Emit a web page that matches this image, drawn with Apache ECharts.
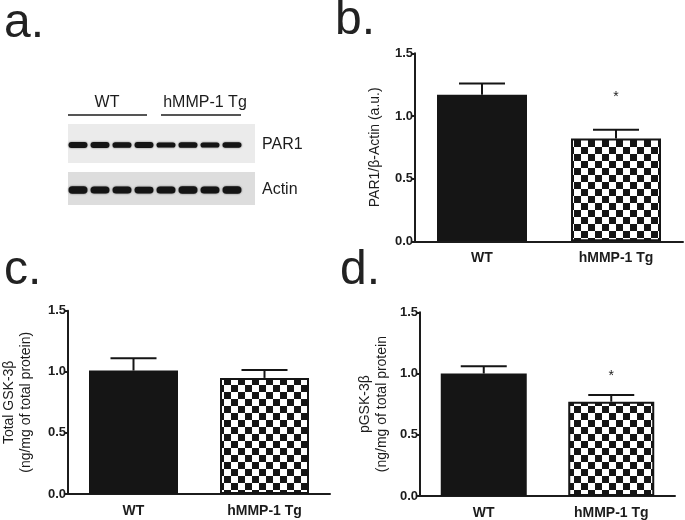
<!DOCTYPE html>
<html>
<head>
<meta charset="utf-8">
<script src="https://cdn.jsdelivr.net/npm/echarts@6/dist/echarts.min.js"></script>
<style>
html,body{margin:0;padding:0;background:#fff;}
#chart{width:685px;height:520px;}
</style>
</head>
<body>
<div id="chart"></div>
<script>
// ---------- data ----------
const categories = ['WT', 'hMMP-1 Tg'];
const yTickValues = [0.0, 0.5, 1.0, 1.5];

// panel b: PAR1 / beta-actin
const par1Mean = [1.17, 0.82];
const par1Err = [0.09, 0.07];
const par1Star = [null, 1.15];

// panel c: total GSK-3beta
const totalGskMean = [1.01, 0.95];
const totalGskErr = [0.10, 0.065];
const totalGskStar = [null, null];

// panel d: pGSK-3beta
const pGskMean = [1.00, 0.77];
const pGskErr = [0.06, 0.055];
const pGskStar = [null, 0.98];

// panel a: western blot (relative band density per lane)
const blotLanes = ['1', '2', '3', '4', '5', '6', '7', '8'];
const blotRows = ['PAR1', 'Actin'];
const blotGroups = ['WT', 'hMMP-1 Tg'];
const par1Bands = [1.0, 1.0, 0.95, 1.0, 0.85, 0.95, 0.85, 0.9];
const actinBands = [1.0, 0.95, 0.95, 0.9, 0.95, 1.0, 0.95, 1.0];

// ---------- styling ----------
const FONT = '"Liberation Sans", Arial, Helvetica, sans-serif';
const INK = '#1c1c1c';

function makeChecker() {
  const c = document.createElement('canvas');
  const s = 7;
  c.width = 2 * s; c.height = 2 * s;
  const g = c.getContext('2d');
  g.fillStyle = '#ffffff';
  g.fillRect(0, 0, 2 * s, 2 * s);
  g.fillStyle = '#151515';
  g.fillRect(0, 0, s, s);
  g.fillRect(s, s, s, s);
  return c;
}
const checker = { image: makeChecker(), repeat: 'repeat' };

const grids = [
  { left: 415, top: 53.3, width: 268, height: 188 },   // b
  { left: 67, top: 310.7, width: 263, height: 183.3 }, // c
  { left: 420, top: 312.3, width: 255, height: 184.4 },// d
  { left: 67, top: 122.5, width: 176, height: 90 }     // a (blot)
];

const panels = [
  { name: 'PAR1/β-Actin (a.u.)', gap: 31, mean: par1Mean, err: par1Err, star: par1Star, barW: 90 },
  { name: 'Total GSK-3β\n(ng/mg of total protein)', gap: 33, mean: totalGskMean, err: totalGskErr, star: totalGskStar, barW: 89 },
  { name: 'pGSK-3β\n(ng/mg of total protein', gap: 29, mean: pGskMean, err: pGskErr, star: pGskStar, barW: 86 }
];

const xAxes = [], yAxes = [], series = [];
panels.forEach((p, i) => {
  xAxes.push({
    gridIndex: i, type: 'category', data: categories,
    axisLine: { lineStyle: { color: INK, width: 2 } },
    axisTick: { alignWithLabel: true, length: 4, lineStyle: { width: 2, color: INK } },
    axisLabel: { fontFamily: FONT, fontWeight: 'bold', fontSize: 14, color: INK, margin: 10 }
  });
  yAxes.push({
    gridIndex: i, type: 'value', min: yTickValues[0], max: yTickValues[yTickValues.length - 1], interval: 0.5,
    name: p.name, nameLocation: 'middle', nameGap: p.gap, nameRotate: 90,
    nameTextStyle: { fontFamily: FONT, fontSize: 14, color: INK, lineHeight: 17 },
    axisLine: { show: true, lineStyle: { color: INK, width: 2 } },
    axisTick: { show: true, length: 4, lineStyle: { width: 2, color: INK } },
    splitLine: { show: false },
    axisLabel: { fontFamily: FONT, fontWeight: 'bold', fontSize: 13, color: INK, margin: 2,
      formatter: v => v.toFixed(1) }
  });
  series.push({
    type: 'bar', xAxisIndex: i, yAxisIndex: i, barWidth: p.barW,
    data: p.mean.map((v, k) => ({
      value: v,
      itemStyle: k === 0
        ? { color: '#151515' }
        : { color: checker, borderColor: '#151515', borderWidth: 2 }
    })),
    z: 2
  });
  series.push({
    type: 'custom', xAxisIndex: i, yAxisIndex: i, z: 3,
    data: p.mean.map((v, k) => [k, v, p.err[k], p.star[k] == null ? NaN : p.star[k]]),
    encode: { x: 0, y: 1 },
    renderItem: function (params, api) {
      const k = api.value(0), m = api.value(1), e = api.value(2), s = api.value(3);
      const base = api.coord([k, m]);
      const top = api.coord([k, m + e]);
      const cap = 46;
      const children = [
        { type: 'line', shape: { x1: base[0], y1: base[1], x2: top[0], y2: top[1] },
          style: { stroke: '#151515', lineWidth: 2 } },
        { type: 'line', shape: { x1: top[0] - cap / 2, y1: top[1], x2: top[0] + cap / 2, y2: top[1] },
          style: { stroke: '#151515', lineWidth: 2 } }
      ];
      if (!isNaN(s)) {
        const sp = api.coord([k, s]);
        children.push({ type: 'text', x: sp[0], y: sp[1],
          style: { text: '*', fontFamily: FONT, fontSize: 14, fill: INK, align: 'center', verticalAlign: 'middle' } });
      }
      return { type: 'group', children: children };
    }
  });
});

// blot grid (panel a)
xAxes.push({ gridIndex: 3, type: 'category', data: blotLanes, show: false });
yAxes.push({
  gridIndex: 3, type: 'category', data: blotRows, inverse: true, position: 'right',
  axisLine: { show: false }, axisTick: { show: false }, splitLine: { show: false },
  axisLabel: { fontFamily: FONT, fontSize: 16, color: INK, margin: 19, align: 'left' }
});
const blotData = [];
par1Bands.forEach((v, k) => blotData.push([k, 0, v]));
actinBands.forEach((v, k) => blotData.push([k, 1, v]));
series.push({
  type: 'custom', xAxisIndex: 3, yAxisIndex: 3, z: 5,
  data: blotData,
  encode: { x: 0, y: 1 },
  renderItem: function (params, api) {
    const c = api.coord([api.value(0), api.value(1)]);
    const laneW = api.size([1, 0])[0];
    const row = api.value(1);
    const d = api.value(2);
    const w = laneW * 0.86;
    const h = (row === 0 ? 6 : 7.5) * d;
    return {
      type: 'rect',
      shape: { x: c[0] - w / 2, y: c[1] - h / 2, width: w, height: h, r: h / 2 },
      style: { fill: '#141414', shadowBlur: 2, shadowColor: 'rgba(0,0,0,0.6)' }
    };
  }
});

const letterStyle = { fontFamily: FONT, fontSize: 48, fill: '#222' };
const graphic = [
  { type: 'text', left: 4, top: 0, style: Object.assign({ text: 'a.' }, letterStyle) },
  { type: 'text', left: 335, top: -3, style: Object.assign({ text: 'b.' }, letterStyle) },
  { type: 'text', left: 4, top: 247, style: Object.assign({ text: 'c.' }, letterStyle) },
  { type: 'text', left: 340, top: 247, style: Object.assign({ text: 'd.' }, letterStyle) },
  // blot backgrounds
  { type: 'rect', shape: { x: 68, y: 124, width: 187, height: 39 }, style: { fill: '#ebebeb' }, z: 1 },
  { type: 'rect', shape: { x: 68, y: 172, width: 187, height: 33 }, style: { fill: '#dddddd' }, z: 1 },
  // group labels and underlines
  { type: 'text', x: 107, y: 103, style: { text: blotGroups[0], fontFamily: FONT, fontSize: 16, fill: INK, align: 'center', verticalAlign: 'middle' } },
  { type: 'text', x: 205, y: 103, style: { text: blotGroups[1], fontFamily: FONT, fontSize: 16, fill: INK, align: 'center', verticalAlign: 'middle' } },
  { type: 'line', shape: { x1: 68, y1: 115, x2: 147, y2: 115 }, style: { stroke: INK, lineWidth: 1.6 } },
  { type: 'line', shape: { x1: 161, y1: 115, x2: 241, y2: 115 }, style: { stroke: INK, lineWidth: 1.6 } }
];

const chart = echarts.init(document.getElementById('chart'), null, { renderer: 'canvas' });
chart.setOption({
  backgroundColor: '#ffffff',
  animation: false,
  textStyle: { fontFamily: FONT },
  grid: grids,
  xAxis: xAxes,
  yAxis: yAxes,
  series: series,
  graphic: graphic
});
</script>
</body>
</html>
